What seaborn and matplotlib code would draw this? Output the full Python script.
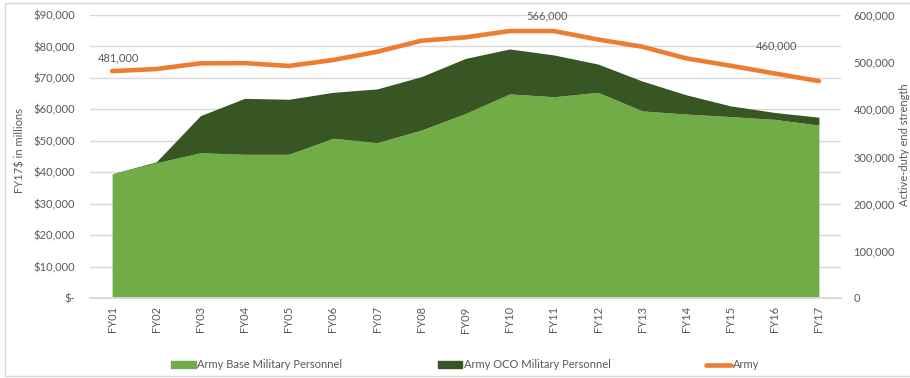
import matplotlib
matplotlib.use("Agg")
import matplotlib.pyplot as plt
import matplotlib.patches as mpatches
from matplotlib.lines import Line2D
from matplotlib.ticker import FuncFormatter
import seaborn as sns
import pandas as pd

years = ["FY01", "FY02", "FY03", "FY04", "FY05", "FY06", "FY07", "FY08", "FY09",
         "FY10", "FY11", "FY12", "FY13", "FY14", "FY15", "FY16", "FY17"]
base_mil_pers = [39400, 43000, 46200, 45700, 45700, 50800, 49400, 53400, 58700,
                 64900, 64000, 65400, 59500, 58500, 57700, 56800, 55000]
oco_mil_pers = [100, 300, 11800, 17800, 17500, 14600, 17100, 17000, 17500,
                14300, 13300, 9000, 9500, 6100, 3400, 2200, 2500]
army_end_strength = [481000, 485500, 497500, 498000, 492000, 504600, 522000, 545500, 552700,
                     566000, 566000, 548000, 532800, 508000, 492500, 476000, 460000]
labelled = {"FY01": 481000, "FY11": 566000, "FY16": 460000}

df = pd.DataFrame({"year": years, "base": base_mil_pers, "oco": oco_mil_pers,
                   "army": army_end_strength})
df["x"] = range(len(df))

sns.set_theme(style="white")
plt.rcParams["font.family"] = ["Lato", "DejaVu Sans"]

c_base = "#70AD47"
c_oco = "#375623"
c_army = "#ED7D31"
c_text = "#595959"
c_grid = "#D9D9D9"

fig = plt.figure(figsize=(9.1, 3.78), dpi=100)
ax = fig.add_axes([90 / 910, 1 - 298 / 378, (841 - 90) / 910, (298 - 15) / 378])
ax2 = ax.twinx()

ax.stackplot(df["x"], df["base"], df["oco"], colors=[c_base, c_oco], linewidth=0)
ax.set_xlim(-0.5, len(df) - 0.5)
ax.set_ylim(0, 90000)
ax.set_yticks(range(0, 90001, 10000))
ax.yaxis.set_major_formatter(FuncFormatter(lambda v, p: "$-" if v == 0 else f"${v:,.0f}"))
ax.grid(axis="y", color=c_grid, linewidth=1)
ax.set_axisbelow(True)
ax.set_xticks(df["x"])
ax.set_xticklabels(df["year"], rotation=90)
ax.tick_params(axis="both", colors=c_text, labelsize=8, length=0, pad=6)
ax.tick_params(axis="y", pad=11)
ax.set_ylabel("FY17$ in millions", color=c_text, fontsize=8)
ax.yaxis.set_label_coords(-0.086, 0.52)

sns.lineplot(data=df, x="x", y="army", ax=ax2, color=c_army, linewidth=3.3,
             legend=False)
ax2.set_ylim(0, 600000)
ax2.set_yticks(range(0, 600001, 100000))
ax2.yaxis.set_major_formatter(FuncFormatter(lambda v, p: f"{v:,.0f}"))
ax2.tick_params(axis="y", colors=c_text, labelsize=8, length=0, pad=9)
ax2.set_ylabel("Active-duty end strength", color=c_text, fontsize=8)
ax2.yaxis.set_label_coords(1.077, 0.54)
ax2.set_xlabel("")

for a in (ax, ax2):
    for s in ("top", "left", "right"):
        a.spines[s].set_visible(False)
    a.spines["bottom"].set_color(c_grid)

offsets = {"FY01": (0.15, 28000), "FY11": (-0.15, 32000), "FY16": (0.05, 58000)}
for yr, val in labelled.items():
    i = years.index(yr)
    dx, dy = offsets[yr]
    ax2.text(i + dx, army_end_strength[i] + dy, f"{val:,}", ha="center", va="center",
             fontsize=8, color=c_text)

handles = [mpatches.Patch(color=c_base, label="Army Base Military Personnel"),
           mpatches.Patch(color=c_oco, label="Army OCO Military Personnel"),
           Line2D([0], [0], color=c_army, linewidth=3.3, label="Army")]
leg = fig.legend(handles=handles, loc="center", bbox_to_anchor=(0.511, 1 - 365 / 378), ncol=3,
                 frameon=False, fontsize=8, handlelength=2.2, handleheight=0.6,
                 handletextpad=0.15, columnspacing=8.6)
for t in leg.get_texts():
    t.set_color(c_text)

fig.patches.append(mpatches.Rectangle((5 / 910, 2 / 378), 1.2, 1 - 5 / 378,
                                      transform=fig.transFigure, fill=False,
                                      edgecolor="#D9D9D9", linewidth=1))

fig.savefig("out.png", dpi=100)
